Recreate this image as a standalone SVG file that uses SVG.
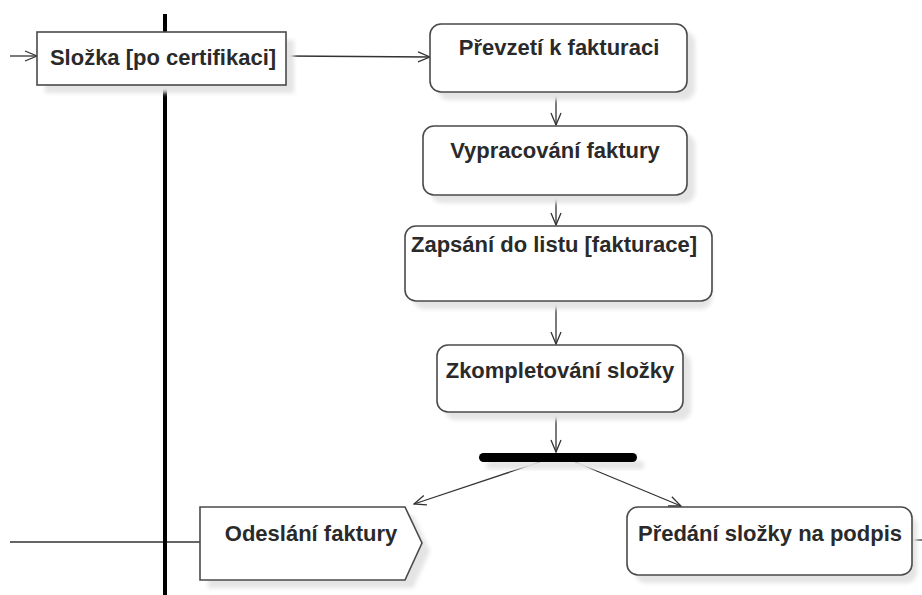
<svg xmlns="http://www.w3.org/2000/svg" width="922" height="595" viewBox="0 0 922 595">
  <style>
    .box { fill: #ffffff; stroke: #4a4a4a; stroke-width: 1.6; }
    .shadow { fill: #e4e4e4; filter: url(#soft); }
    .lbl { font-family: "Liberation Sans", Arial, sans-serif; font-size: 22px; font-weight: bold; fill: #2a2a2a; text-anchor: middle; }
    .edge { fill: none; stroke: #333333; stroke-width: 1.3; }
  </style>
  <defs>
    <filter id="soft" x="-10%" y="-20%" width="120%" height="140%">
      <feGaussianBlur stdDeviation="2"/>
    </filter>
    <marker id="open" viewBox="0 0 14 12" refX="13" refY="6" markerWidth="14" markerHeight="12" markerUnits="userSpaceOnUse" orient="auto">
      <path d="M1,1 L13,6 L1,11" fill="none" stroke="#333333" stroke-width="1.3"/>
    </marker>
  </defs>
  <rect width="922" height="595" fill="#ffffff"/>

  <!-- swimlane divider -->
  <line x1="165" y1="14" x2="165" y2="595" stroke="#000000" stroke-width="4"/>

  <g id="connectors">
    <line class="edge" x1="10" y1="56" x2="37" y2="56" marker-end="url(#open)"/>
    <line class="edge" x1="286" y1="56" x2="430" y2="57" marker-end="url(#open)"/>
    <line class="edge" x1="556" y1="92" x2="556" y2="125" marker-end="url(#open)"/>
    <line class="edge" x1="556" y1="195" x2="556" y2="225" marker-end="url(#open)"/>
    <line class="edge" x1="556" y1="301" x2="556" y2="344" marker-end="url(#open)"/>
    <line class="edge" x1="556" y1="412" x2="556" y2="452" marker-end="url(#open)"/>
    <line class="edge" x1="540" y1="462" x2="414" y2="504" marker-end="url(#open)"/>
    <line class="edge" x1="575" y1="462" x2="681" y2="506" marker-end="url(#open)"/>
    <line class="edge" x1="10" y1="542" x2="200" y2="542"/>
    <line class="edge" x1="912" y1="540" x2="922" y2="540"/>
  </g>
  <line x1="165" y1="500" x2="165" y2="595" stroke="#000000" stroke-width="4"/>

  <g id="slozka-po-certifikaci">
    <rect class="shadow" x="45" y="40" width="249" height="53"/>
    <rect class="box" x="37" y="32" width="249" height="53"/>
    <text class="lbl" x="163" y="65">Složka [po certifikaci]</text>
  </g>

  <g id="prevzeti-k-fakturaci">
    <rect class="shadow" x="438" y="32" width="257" height="68" rx="11"/>
    <rect class="box" x="430" y="24" width="257" height="68" rx="11"/>
    <text class="lbl" x="559" y="55">Převzetí k fakturaci</text>
  </g>

  <g id="vypracovani-faktury">
    <rect class="shadow" x="431" y="134" width="264" height="69" rx="11"/>
    <rect class="box" x="423" y="126" width="264" height="69" rx="11"/>
    <text class="lbl" x="555" y="158">Vypracování faktury</text>
  </g>

  <g id="zapsani-do-listu">
    <rect class="shadow" x="413" y="234" width="299" height="75" rx="11"/>
    <rect class="box" x="405" y="226" width="307" height="75" rx="11"/>
    <text class="lbl" x="554" y="252">Zapsání do listu [fakturace]</text>
  </g>

  <g id="zkompletovani-slozky">
    <rect class="shadow" x="445" y="353" width="246" height="67" rx="11"/>
    <rect class="box" x="437" y="345" width="246" height="67" rx="11"/>
    <text class="lbl" x="560" y="378">Zkompletování složky</text>
  </g>

  <g id="fork">
    <rect class="shadow" x="486" y="461" width="158" height="8" rx="4"/>
    <rect x="479" y="453" width="158" height="9" rx="4.5" fill="#000000"/>
  </g>

  <g id="odeslani-faktury">
    <path class="shadow" d="M208,515 H413 L430,551 L413,588 H208 Z"/>
    <path class="box" d="M200,507 H405 L422,543 L405,580 H200 Z"/>
    <text class="lbl" x="311" y="541">Odeslání faktury</text>
  </g>

  <g id="predani-slozky-na-podpis">
    <rect class="shadow" x="635" y="515" width="282" height="68" rx="11"/>
    <rect class="box" x="627" y="507" width="285" height="68" rx="11"/>
    <text class="lbl" x="770" y="541">Předání složky na podpis</text>
  </g>
</svg>
